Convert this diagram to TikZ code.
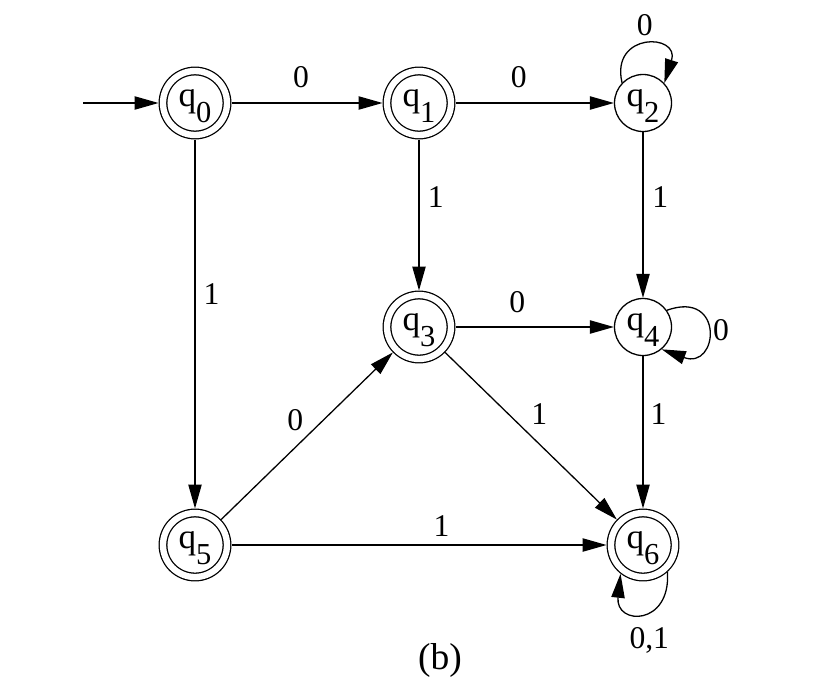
\documentclass[tikz,border=0pt]{standalone}
\usepackage{fontspec}
\setmainfont{Liberation Serif}
\usetikzlibrary{arrows.meta, positioning}
\newcommand{\qsub}[1]{q\raisebox{-14pt}{\fontsize{26}{28}\selectfont #1}}

\begin{document}
\begin{tikzpicture}[x=0.03cm, y=-0.03cm,
  state/.style={circle, draw, line width=1.1pt, minimum size=1.71cm, inner sep=0pt,
                text height=20pt, font=\fontsize{30}{32}\selectfont},
  accstate/.style={state, double, double distance=0.19cm, minimum size=1.92cm,
                   outer sep=0.135cm},
  arr/.style={-{Triangle[length=0.72cm, width=0.4cm]}, line width=1.1pt},
  lbl/.style={inner sep=0pt, font=\fontsize{27}{29}\selectfont},
]
\useasboundingbox (0,0) rectangle (824,690);

% ---- states ----
\node[accstate] (q0) at (195,103) {\qsub{0}};
\node[accstate] (q1) at (419,103) {\qsub{1}};
\node[state]    (q2) at (643,103) {\qsub{2}};
\node[accstate] (q3) at (419,327) {\qsub{3}};
\node[state]    (q4) at (643,327) {\qsub{4}};
\node[accstate] (q5) at (195,545) {\qsub{5}};
\node[accstate] (q6) at (643,545) {\qsub{6}};
\coordinate (init) at (83,103);

% ---- transitions ----
\draw[arr] (init) -- (q0);
\draw[arr] (q0) -- node[lbl, pos=.46, above=0.43cm] {0} (q1);
\draw[arr] (q1) -- node[lbl, pos=.40, above=0.43cm] {0} (q2);
\draw[arr] (q1) -- node[lbl, pos=.38, right=0.25cm] {1} (q3);
\draw[arr] (q2) -- node[lbl, pos=.39, right=0.26cm] {1} (q4);
\draw[arr] (q0) -- node[lbl, pos=.42, right=0.24cm] {1} (q5);
\draw[arr] (q3) -- node[lbl, pos=.39, above=0.40cm] {0} (q4);
\draw[arr] (q4) -- node[lbl, pos=.38, right=0.21cm] {1} (q6);
\draw[arr] (q5) -- node[lbl, pos=.56, above=0.25cm] {1} (q6);
\draw[arr] (q3) -- node[lbl, pos=.46, above right=0.14cm and 0.2cm] {1} (q6);
\draw[arr] (q5) -- node[lbl, pos=.51, above left=0.08cm and 0.15cm] {0} (q3);

% ---- self loops ----
\draw[arr] (q2.136) .. controls +(-12,-51) and +(16,-50) .. node[lbl, pos=.5, above=0.25cm] {0} (q2.43);
\draw[arr] (q4.35) .. controls +(58,-21) and +(57,21) .. node[lbl, pos=.5, right=0.15cm] {0} (q4.-50);
\draw[arr] (q6.-48) .. controls +(3.6,54) and +(-5.5,52) .. node[lbl, pos=.5, below=0.42cm, xshift=0.18cm] {0,1} (q6.-128);

% ---- caption ----
\node[font=\fontsize{32}{34}\selectfont] (cap) at (440,660) {(b)};

\end{tikzpicture}
\end{document}
